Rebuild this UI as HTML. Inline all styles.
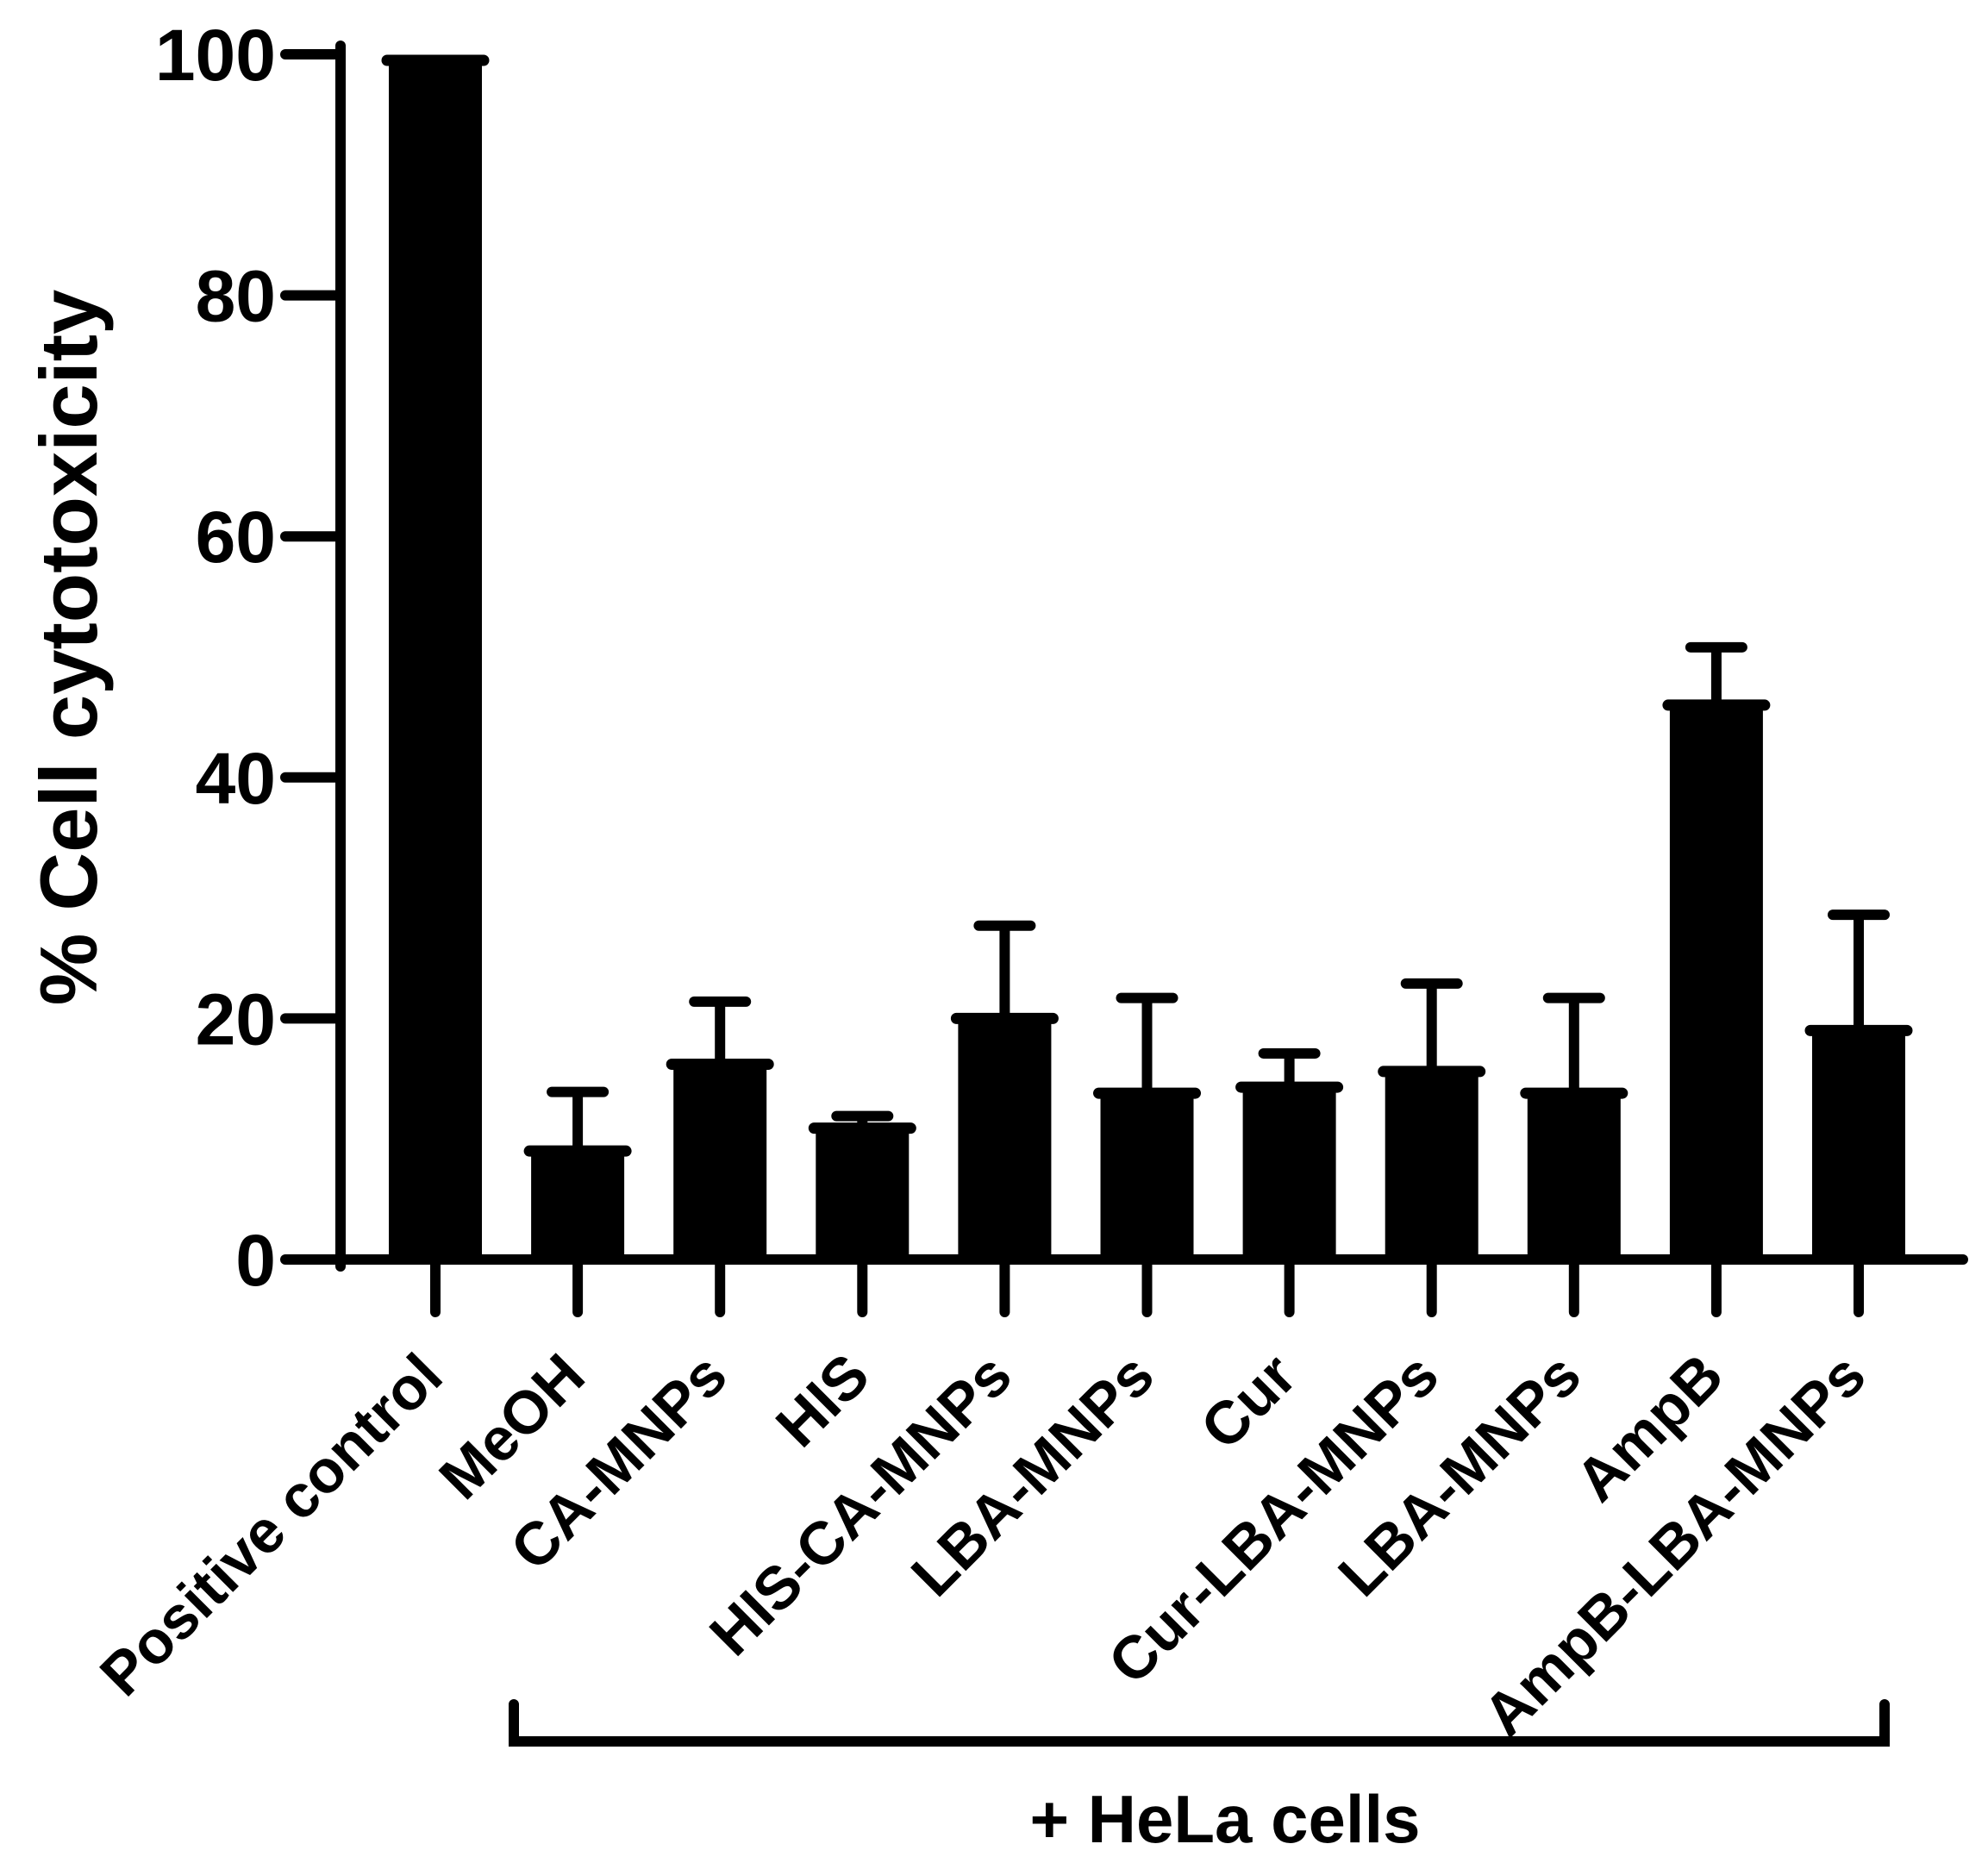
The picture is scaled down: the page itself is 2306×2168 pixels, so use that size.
<!DOCTYPE html>
<html><head><meta charset="utf-8"><style>
html,body{margin:0;padding:0;background:#fff;}
svg{display:block;font-family:"Liberation Sans",Arial,sans-serif;font-weight:bold;}
</style></head><body>
<svg id="chart" width="2306" height="2168" viewBox="0 0 2306 2168" xmlns="http://www.w3.org/2000/svg">
<g id="plot"></g>
<text x="0" y="0" font-size="94" text-anchor="middle" transform="translate(112,751) rotate(-90)">% Cell cytotoxicity</text>
<path d="M596 1977 V2020 H2186 V1977" fill="none" stroke="#000" stroke-width="12" stroke-linecap="round" stroke-linejoin="miter"/>
<text x="1421" y="2137" font-size="78" text-anchor="middle">+ HeLa cells</text>
</svg>
<script>
const categories = ["Positive control","MeOH","CA-MNPs","HIS","HIS-CA-MNPs","LBA-MNPs","Cur","Cur-LBA-MNPs","LBA-MNPs","AmpB","AmpB-LBA-MNPs"];
const means = [99.5, 9.0, 16.2, 10.9, 20.0, 13.8, 14.3, 15.6, 13.8, 46.0, 19.0];
const errors = [0, 4.9, 5.2, 1.0, 7.7, 7.9, 2.8, 7.3, 7.9, 4.8, 9.6];
const yTicks = [0, 20, 40, 60, 80, 100];

const NS = "http://www.w3.org/2000/svg";
const g = document.getElementById('plot');
const X0 = 505, STEP = 165.1, Y0 = 1461, Y100 = 63;
function xPos(i){ return X0 + i*STEP; }
function yPos(v){ return Y0 - (Y0 - Y100) * v / 100; }
function mk(tag, attrs){ const e = document.createElementNS(NS, tag); for (const k in attrs) e.setAttribute(k, attrs[k]); g.appendChild(e); return e; }

// axes
let yAxis = mk('line', {x1:395, y1:53, x2:395, y2:1469, stroke:'#000', 'stroke-width':12, 'stroke-linecap':'round'});


let xAxis = mk('line', {x1:334, y1:Y0, x2:2277, y2:Y0, stroke:'#000', 'stroke-width':12, 'stroke-linecap':'round'});



yTicks.forEach(t => {
  const y = yPos(t);
  const tk = mk('line', {x1:331, y1:y, x2:395, y2:y, stroke:'#000', 'stroke-width':12, 'stroke-linecap':'round'});
  
  
  const lb = mk('text', {x:320, y:y+30, 'font-size':84, 'text-anchor':'end'});
  lb.textContent = String(t);
  
  
});

categories.forEach((c, i) => {
  const cx = xPos(i), bw = 108;
  const top = yPos(means[i]);
  if (errors[i] > 0) {
    const et = yPos(means[i] + errors[i]);
    const el = mk('line', {x1:cx, y1:top, x2:cx, y2:et, stroke:'#000', 'stroke-width':12});
    
    
    const ec = mk('line', {x1:cx-30, y1:et, x2:cx+30, y2:et, stroke:'#000', 'stroke-width':12, 'stroke-linecap':'round'});
    
    
  }
  const r = mk('rect', {x:cx-bw/2, y:top, width:bw, height:Y0-top, fill:'#000'});
  
  
  const cap = mk('line', {x1:cx-bw/2-2, y1:top, x2:cx+bw/2+2, y2:top, stroke:'#000', 'stroke-width':13, 'stroke-linecap':'round'});
  
  
  const tk = mk('line', {x1:cx, y1:Y0, x2:cx, y2:1522, stroke:'#000', 'stroke-width':12, 'stroke-linecap':'round'});
  
  
  const lb = mk('text', {x:0, y:0, 'font-size':70, 'text-anchor':'end', transform:'translate('+(cx+12)+',1600) rotate(-45)'});
  lb.textContent = c;
  
  
});
</script>
</body></html>
